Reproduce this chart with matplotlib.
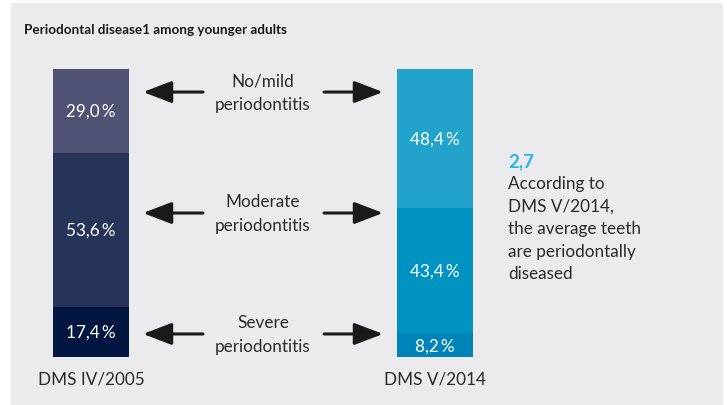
import matplotlib
matplotlib.use("Agg")
import matplotlib.pyplot as plt
from matplotlib.patches import Rectangle

# ---- data ----
surveys = ["DMS IV/2005", "DMS V/2014"]
categories = ["Severe\nperiodontitis", "Moderate\nperiodontitis", "No/mild\nperiodontitis"]
severe = [17.4, 8.2]
moderate = [53.6, 43.4]
mild = [29.0, 48.4]
value_labels = {
    "severe": ["17,4\u2009%", "8,2\u2009%"],
    "moderate": ["53,6\u2009%", "43,4\u2009%"],
    "mild": ["29,0\u2009%", "48,4\u2009%"],
}
highlight_value = "2,7"
highlight_text = "According to\nDMS V/2014,\nthe average teeth\nare periodontally\ndiseased"
title = "Periodontal disease1 among younger adults"

colors_left = ["#031641", "#273459", "#4f5272"]
colors_right = ["#0083b8", "#0093c2", "#22a3cc"]

FONT = ["Lato", "DejaVu Sans"]
plt.rcParams["font.family"] = FONT

W, H = 727, 406
fig = plt.figure(figsize=(W / 100, H / 100), dpi=100)
fig.patch.set_facecolor("white")

# gray panel
fig.patches.append(Rectangle((11 / W, 0), (723 - 11) / W, (406 - 4) / H,
                             transform=fig.transFigure, facecolor="#ebebee",
                             edgecolor="none", zorder=-10))

fig.text(24 / W, 1 - 30 / H, title, fontsize=9.7, fontweight="bold",
         color="#1a1a1a", ha="left", va="center")

# bars axes: y from 358px (0%) to 70px (100%)
ax_bottom = (H - 358) / H
ax_height = (358 - 70) / H
ax = fig.add_axes([0, ax_bottom, 1, ax_height])
ax.set_facecolor("none")
xc = [0, 1]
px = 344.0  # pixels between bar centres
ax.set_xlim(-91 / px, (W - 91) / px)
ax.set_ylim(0, 100)
ax.axis("off")
bw = 76 / px

series = [severe, moderate, mild]
keys = ["severe", "moderate", "mild"]
bottoms = [0.0, 0.0]
for si, (vals, key) in enumerate(zip(series, keys)):
    cols = [colors_left[si], colors_right[si]]
    ax.bar(xc, vals, width=bw, bottom=bottoms, color=cols, edgecolor="none")
    for i in range(2):
        ax.text(xc[i], bottoms[i] + vals[i] / 2, value_labels[key][i],
                color="white", fontsize=12.3, ha="center", va="center")
    bottoms = [b + v for b, v in zip(bottoms, vals)]

# arrows + category labels
arrow_y = [8.0, 50.0, 92.0]
astyle = "-|>,head_length=1.1,head_width=0.42"
for cat, y in zip(categories, arrow_y):
    ax.annotate("", xy=(52 / px, y), xytext=(112 / px, y),
                arrowprops=dict(arrowstyle=astyle, lw=2.2, color="#1a1a1a",
                                mutation_scale=16, shrinkA=0, shrinkB=0))
    ax.annotate("", xy=(292 / px, y), xytext=(233 / px, y),
                arrowprops=dict(arrowstyle=astyle, lw=2.2, color="#1a1a1a",
                                mutation_scale=16, shrinkA=0, shrinkB=0))
    ax.text(0.5, y, cat, fontsize=12.3, color="#2b2b2b", ha="center",
            va="center", linespacing=1.55)

for i, s in enumerate(surveys):
    ax.text(xc[i], -7.6, s, fontsize=12.3, color="#2b2b2b", ha="center",
            va="center")

fig.text(508 / W, 1 - 162 / H, highlight_value, fontsize=13.5, fontweight="bold",
         color="#29b5e8", ha="left", va="center")
fig.text(508 / W, 1 - 176 / H, highlight_text, fontsize=12.3, color="#2b2b2b",
         ha="left", va="top", linespacing=1.5)

fig.savefig("out.png", dpi=100)
